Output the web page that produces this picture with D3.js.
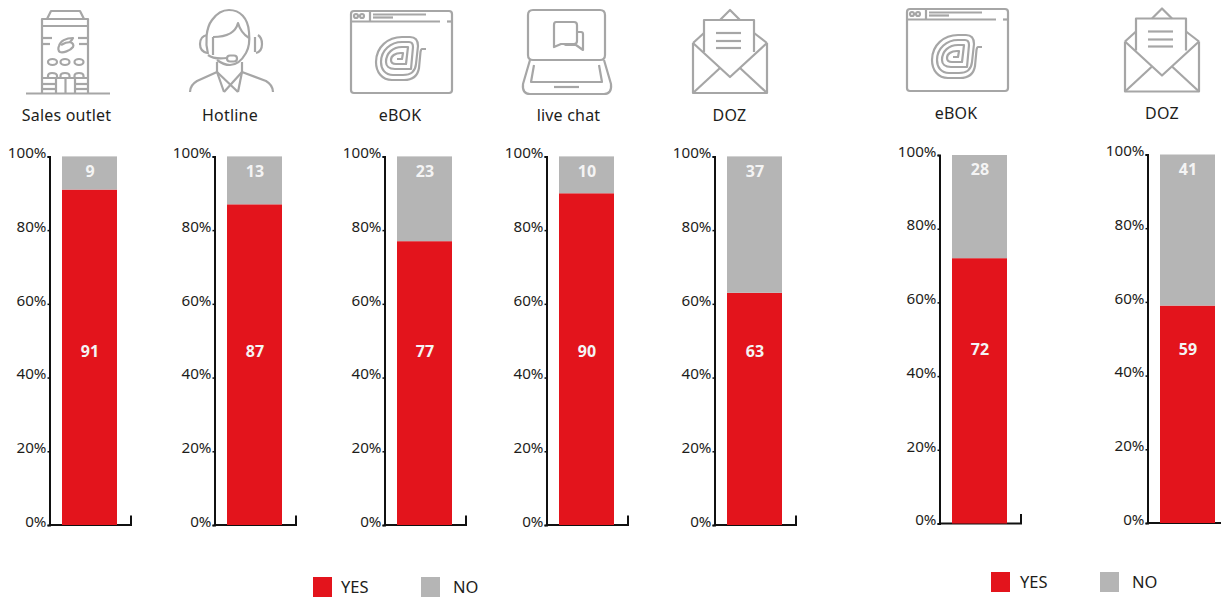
<!DOCTYPE html>
<html>
<head>
<meta charset="utf-8">
<script src="https://cdnjs.cloudflare.com/ajax/libs/d3/7.8.5/d3.min.js"></script>
<style>
html,body{margin:0;padding:0;background:#fff;overflow:hidden}
svg{display:block}
text{font-family:"Noto Sans",sans-serif;fill:#1d1d1b}
</style>
</head>
<body>
<svg id="chart" width="1221" height="597"></svg>
<script>
// Survey answers per contact channel
const channels = ["Sales outlet", "Hotline", "eBOK", "live chat", "DOZ", "eBOK", "DOZ"];
const yesValues = [91, 87, 77, 90, 63, 72, 59];
const noValues = [9, 13, 23, 10, 37, 28, 41];
const iconKinds = ["outlet", "hotline", "ebok", "chat", "mail", "ebok", "mail"];
const yTicks = [0, 20, 40, 60, 80, 100];
const legendLabels = ["YES", "NO"];

// Panel layout
const panelLeft = [49.5, 214.5, 384.5, 546.5, 714.5, 939.5, 1147.5];
const panelTop = [156.4, 156.4, 156.4, 156.4, 156.4, 155, 154.5];
const panelBottom = [525, 525, 525, 525, 525, 523.5, 523];
const iconShift = [[0,0],[0,0],[0,0],[0,0],[0,0],[556,-2],[432,-1.5]];
const labelX = [66.5, 230, 400, 568.5, 729.5, 956, 1162];
const labelY = [121, 121, 121, 121, 121, 119, 119];
const panelWidth = 81, barOffset = 12.5, barWidth = 55;
const red = "#e3141c", grey = "#b5b5b5", iconGrey = "#a6a6a6";

const svg = d3.select("#chart");

// Outline icons, one path list per channel, all stroked alike
const iconPaths = {
  outlet: [
    "M26 93.5H110", "M42 93V19H88V93", "M47 19L51 11H80L84 19", "M42 26H88",
    "M42 38H52", "M42 44H50", "M78 38H88", "M79 44H88",
    "M59 46C60 41 66 38 73 38C72 40 71 41 70 42C73 43 74 45 73 47C70 51 63 53 60 52C58 51 58 48 59 46Z",
    "M61 45C64 43 67 42 71 42",
    "M48 62a4.5 3 0 1 0 9 0a4.5 3 0 1 0 -9 0", "M60.5 62a4.5 3 0 1 0 9 0a4.5 3 0 1 0 -9 0", "M74.5 62a4.5 3 0 1 0 9 0a4.5 3 0 1 0 -9 0",
    "M48 79V76Q48 73 52 73Q57 73 57 76V79", "M60.5 79V76Q60.5 73 65 73Q69.5 73 69.5 76V79", "M74.5 79V76Q74.5 73 79 73Q83.5 73 83.5 76V79",
    "M42 78H88", "M56 78V93", "M65.5 78V93", "M75 78V93",
    "M42 84H56", "M42 89H56", "M75 84H88", "M75 89H88"
  ],
  hotline: [
    "M208 54C205 42 206 28 212 20C217 13 224 10 229 10C240 10 248 18 249 32C250 42 249 48 246 53C242 60 236 65 230 65C225 65 221 63 217 60",
    "M213 37C222 37 235 35 238 23C240 30 244 35 249 38",
    "M213 37V55",
    "M207 35C202 36 200 40 200 44C200 49 203 52 207 53",
    "M258 35C261 37 262 40 262 44C262 49 260 52 256 53", "M255 37V52",
    "M208 55C212 58 219 59 227 58",
    "M230 55.5H234C238 55.5 238 61.5 234 61.5H230C226 61.5 226 55.5 230 55.5Z",
    "M217 62V72", "M242 62V72",
    "M190 92C190 87 192 84 197 81L217 72", "M242 72L266 81C271 84 273 87 273 92",
    "M217 72L238 92", "M242 72L224 92", "M217 72L224 92", "M242 72L238 92"
  ],
  ebok: [
    "M354 11H449Q452 11 452 14V90Q452 93 449 93H354Q351 93 351 90V14Q351 11 354 11Z",
    "M351 21.5H440", "M447 21.5H452", "M370 11V21",
    "M373 14.5H426", "M373 17.5H393",
    "M354 16a2 2 0 1 0 4 0a2 2 0 1 0 -4 0", "M360 16a2 2 0 1 0 4 0a2 2 0 1 0 -4 0",
    "M426 49H422Q421 49 420.5 52L419 68Q417 80 404 80H392C382 80 376 72 376 62C376 47 388 37 402 37H410C416 37 418 41 418 46L416 64Q415 75 403 75H393C385 75 381 69 381 62C381 50 391 42 402 42H409C412 42 413 44 413 47L411 69H395C389 69 386 66 386 62C386 53 393 47 402 47H408L406 64H396C392 64 391 62 391 60C391 56 395 53 401 53H403L402 59H397"
  ],
  chat: [
    "M533 10H600Q605 10 605 15V55Q605 60 600 60H533Q528 60 528 55V15Q528 10 533 10Z",
    "M530 60L523 84Q522 94 530 94H604Q612 94 611 84L604 60",
    "M534 65L531 82H602L599 65", "M554 87H579",
    "M556 22H574Q577 22 577 25V41Q577 44 574 44H561L554 47V25Q554 22 556 22Z",
    "M577 32H581Q583 32 583 34V50L576 45H566L564 44"
  ],
  mail: [
    "M693 43V93H767V43", "M693 43L730 77L767 43",
    "M693 93L720 68", "M767 93L740 68",
    "M693 43L704 33", "M767 43L754 33",
    "M720 20L730 10L740 20",
    "M704 52V20H754V52",
    "M716 33H741", "M716 41H741", "M716 48H741"
  ]
};

channels.forEach((name, i) => {
  const x0 = panelLeft[i];
  const y = d3.scaleLinear().domain([0, 100]).range([panelBottom[i], panelTop[i]]);
  const x = d3.scaleLinear().domain([0, panelWidth]).range([x0, x0 + panelWidth]);
  const g = svg.append("g");

  // Icon above the column
  g.append("g")
    .attr("transform", `translate(${iconShift[i][0]},${iconShift[i][1]})`)
    .selectAll("path").data(iconPaths[iconKinds[i]]).join("path")
    .attr("d", d => d)
    .attr("fill", "none")
    .attr("stroke", iconGrey)
    .attr("stroke-width", 2.2)
    .attr("stroke-linejoin", "round");

  g.append("text")
    .attr("x", labelX[i]).attr("y", labelY[i])
    .attr("text-anchor", "middle")
    .attr("font-size", 16)
    .attr("letter-spacing", 0.2)
    .text(name);

  // Value axis
  const yAxis = g.append("g")
    .attr("transform", `translate(${x0},0)`)
    .call(d3.axisLeft(y).tickValues(yTicks).tickFormat(d => d + "%").tickSize(2).tickPadding(1));
  yAxis.select(".domain").attr("stroke", "#111").attr("stroke-width", 2);
  yAxis.selectAll(".tick line").attr("stroke", "#111").attr("stroke-width", 1.5);
  yAxis.selectAll(".tick text").attr("font-size", 15.2).attr("dy", "0.08em").style("fill", "#1d1d1b").style("font-family", '"Noto Sans",sans-serif');

  // Baseline with the upturned end tick
  const xAxis = g.append("g")
    .attr("transform", `translate(0,${panelBottom[i] - 0.5})`)
    .call(d3.axisBottom(x).tickValues([]).tickSizeOuter(-9));
  xAxis.select(".domain").attr("stroke", "#111").attr("stroke-width", 2).attr("fill", "none");

  // Stacked column, painted over the baseline
  const stack = [
    {v0: 0, v1: yesValues[i], c: red},
    {v0: yesValues[i], v1: yesValues[i] + noValues[i], c: grey}
  ];
  g.selectAll("rect").data(stack).join("rect")
    .attr("x", x(barOffset)).attr("width", barWidth)
    .attr("y", d => y(d.v1))
    .attr("height", d => y(d.v0) - y(d.v1))
    .attr("fill", d => d.c);

  // Value labels sit at a fixed height in every column
  const labelRows = [[yesValues[i], 47.2], [noValues[i], 96]];
  g.selectAll("text.val").data(labelRows).join("text")
    .attr("class", "val")
    .attr("x", x(barOffset + barWidth / 2) + 0.5)
    .attr("y", d => y(d[1]) + 5.6)
    .attr("text-anchor", "middle")
    .attr("font-size", 16)
    .attr("font-weight", 700)
    .style("fill", "#f4f4f4")
    .text(d => d[0]);
});

// Two legends, one under each group of columns
const legendRows = [
  {swatchX: [313, 421], textX: [341, 453], top: 577},
  {swatchX: [991, 1100], textX: [1020, 1132], top: 572}
];
legendRows.forEach(row => {
  legendLabels.forEach((label, j) => {
    svg.append("rect")
      .attr("x", row.swatchX[j]).attr("y", row.top)
      .attr("width", 19).attr("height", 20)
      .attr("fill", j === 0 ? red : grey);
    svg.append("text")
      .attr("x", row.textX[j]).attr("y", row.top + 16)
      .attr("font-size", 16.5)
      .text(label);
  });
});
</script>
</body>
</html>
